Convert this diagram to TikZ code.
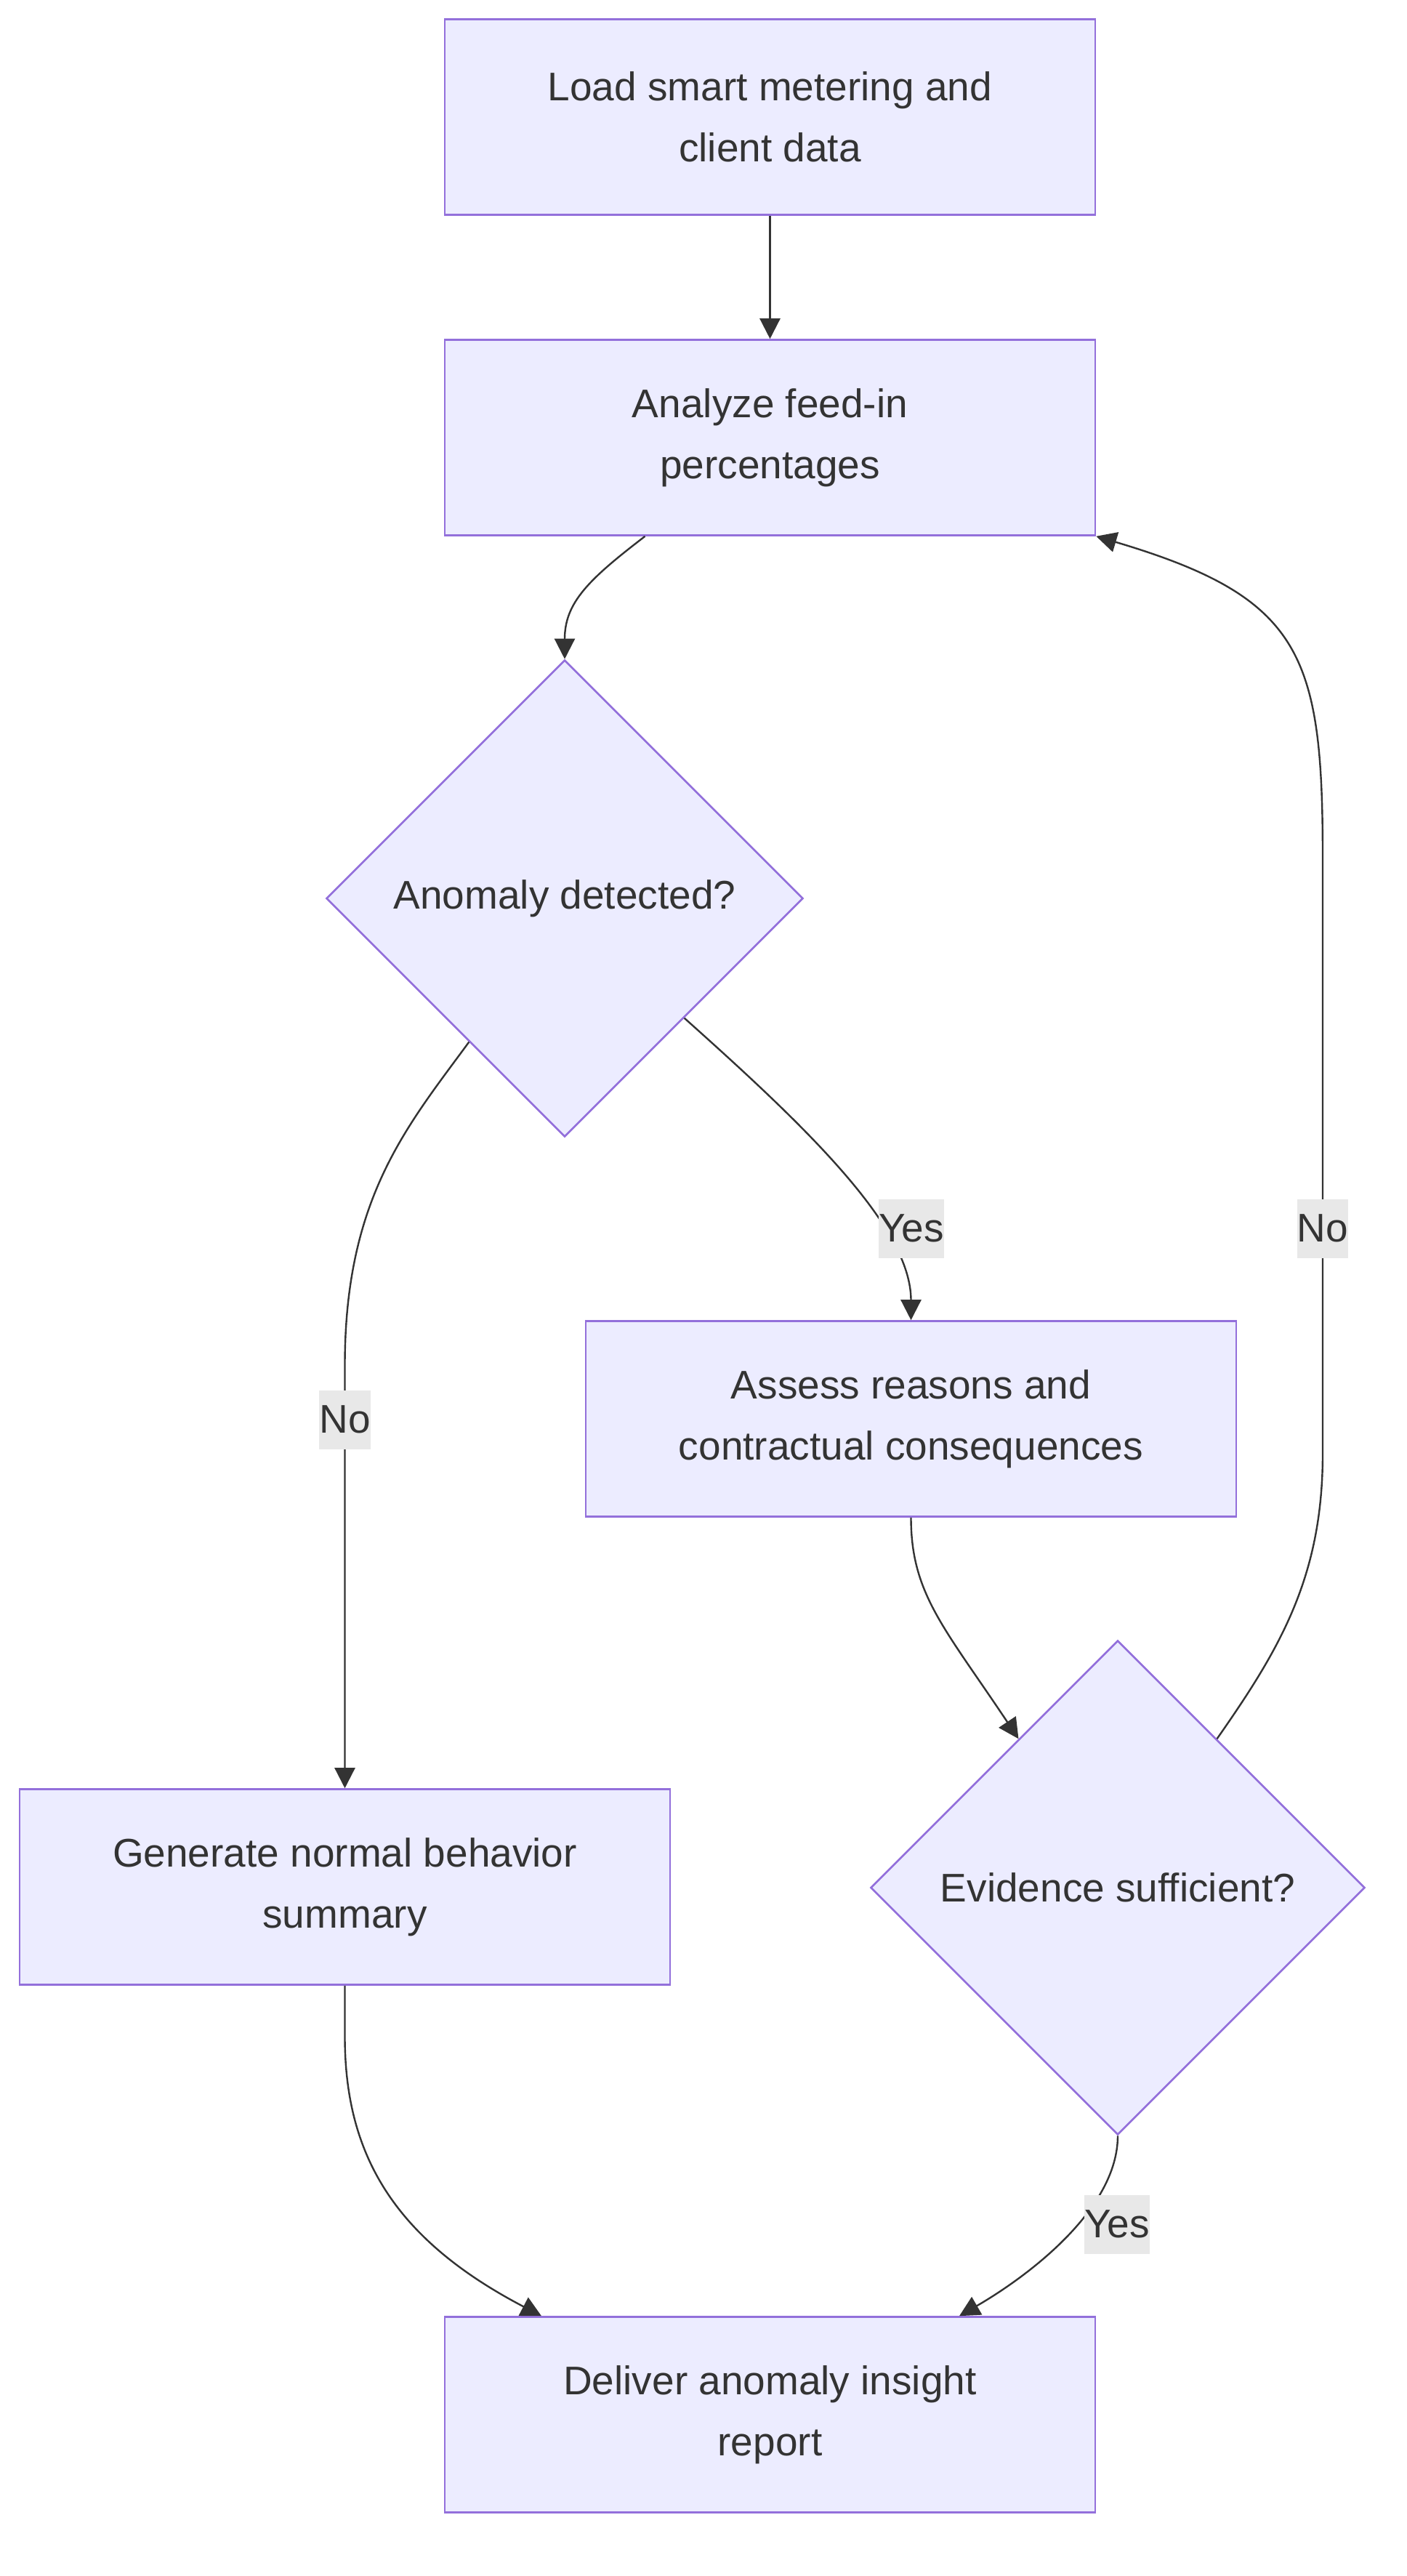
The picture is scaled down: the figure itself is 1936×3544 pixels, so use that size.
\documentclass[tikz,border=0pt]{standalone}
\usepackage{fontspec}
\setmainfont{Liberation Sans}
\usetikzlibrary{arrows.meta,calc,shapes.geometric}
\definecolor{mfill}{HTML}{ECECFF}
\definecolor{mstroke}{HTML}{9370DB}
\definecolor{mline}{HTML}{333333}
\definecolor{mtext}{HTML}{333333}
\definecolor{mlabel}{HTML}{E8E8E8}
\newcommand{\mmfont}{\fontsize{13.75pt}{20.9pt}\selectfont}
\tikzset{
  proc/.style ={rectangle, draw=mstroke, fill=mfill, line width=0.65pt,
                minimum width=223.75pt, minimum height=67.25pt, align=center,
                text=mtext, font=\mmfont},
  dec/.style  ={diamond, aspect=1, draw=mstroke, fill=mfill, line width=0.65pt,
                inner sep=0pt, align=center, text=mtext, font=\mmfont},
  flow/.style ={-{Triangle[length=7pt,width=7pt]}, draw=mline, line width=0.6pt},
  elbl/.style ={fill=mlabel, text=mtext, font=\mmfont, inner xsep=0pt,
                inner ysep=0pt, minimum height=20.25pt}
}

\begin{document}
\begin{tikzpicture}[x=0.25pt, y=-0.25pt]
\useasboundingbox (0,0) rectangle (1936,3544);
\node[proc] (load) at (1059.5,161) {Load smart metering and\\client data};
\node[proc] (feed) at (1059.5,602) {Analyze feed-in\\percentages};
\node[dec, minimum size=164pt] (anom) at (777,1236) {Anomaly detected?};
\node[proc] (assess) at (1253.5,1952) {Assess reasons and\\contractual consequences};
\node[dec, minimum size=170pt] (evid) at (1538,2597) {Evidence sufficient?};
\node[proc] (normal) at (474.5,2596) {Generate normal behavior\\summary};
\node[proc] (report) at (1059.5,3322) {Deliver anomaly insight\\report};
% connectors
\draw[flow] (load) -- (feed);
\draw[flow] ($(feed.south)+(-172,0)$) .. controls +(-77,59) and +(0,-78) .. (anom.north);
\draw[flow] ($(anom.east)!0.5!(anom.south)$) .. controls +(168,150) and +(0,-128) .. (assess.north);
\draw[flow] ($(anom.west)!0.6!(anom.south)$) .. controls +(-85,116) and +(0,-230)
  .. ($(normal.north)+(0,-582)$) -- (normal.north);
\draw[flow] (assess.south) .. controls +(0,105) and +(-102,-153) .. ($(evid.west)!0.6!(evid.north)$);
\draw[flow] ($(evid.north)!0.4!(evid.east)$) .. controls +(86,-123) and +(0,170) .. (1820,2000)
  -- (1820,1180) .. controls +(0,-280) and +(283,84) .. (feed.south east);
\draw[flow] (normal.south) -- ++(0,70) .. controls +(0,160) and +(-205,-107)
  .. ($(report.north)+(-314.5,0)$);
\draw[flow] (evid.south) .. controls +(0,103) and +(90,-52) .. ($(report.north)+(260.5,0)$);
% edge labels
\node[elbl] (yesA) at (1254,1690) {Yes};
\node[elbl] (noA) at (474.5,1953) {No};
\node[elbl] (noB) at (1820,1690) {No};
\node[elbl] (yesB) at (1537,3060) {Yes};
\end{tikzpicture}
\end{document}
